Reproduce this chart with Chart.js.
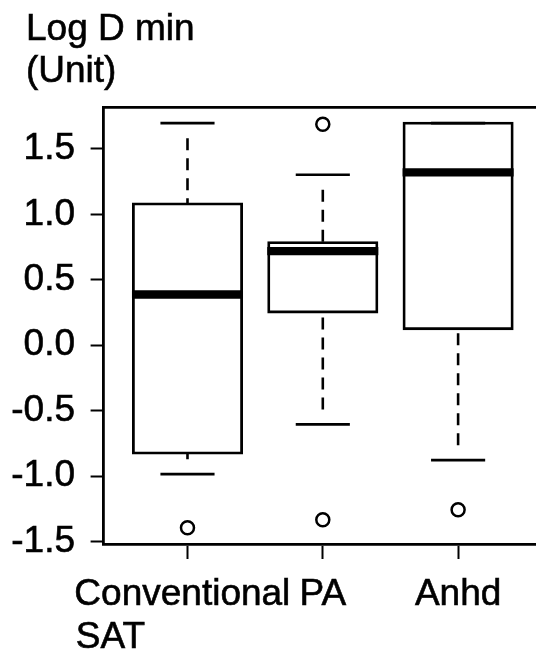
<!DOCTYPE html>
<html>
<head>
<meta charset="utf-8">
<script src="https://cdn.jsdelivr.net/npm/chart.js@4.4.1/dist/chart.umd.min.js"></script>
<style>
  html, body { margin: 0; padding: 0; background: #fff; overflow: hidden; }
  canvas { display: block; }
</style>
</head>
<body>
<canvas id="boxChart" width="560" height="660"></canvas>
<script>
// Data ----------------------------------------------------------------
var titleLines = ['Log D min', '(Unit)'];
var groups = [['Conventional ', 'SAT'], ['PA'], ['Anhd']];
var q1 = [-0.824, 0.254, 0.126];
var median = [0.388, 0.72, 1.321];
var q3 = [1.081, 0.785, 1.697];
var whiskerLo = [-0.985, -0.605, -0.878];
var whiskerHi = [1.697, 1.303, 1.697];
var outliers = [[-1.395], [1.689, -1.334], [-1.257]];
var yTicks = [-1.5, -1.0, -0.5, 0.0, 0.5, 1.0, 1.5];
var yRange = [-1.519, 1.821];
var xRange = [0.38, 3.62];

var FONT = '"Liberation Sans", Arial, sans-serif';
var FONT_SIZE = 37;
var LINE_H = 1.15;
var BOX_LW = 2.8;
var TEXT_STROKE = 0.6;

// whisker dashes: a blank stretch at the cap, then 12 on / 8 off
var whiskerDash = [0, 15];
for (var k = 0; k < 7; k++) whiskerDash.push(12, 8);

// pad the shorter lines so every line of a label starts at the same x
var measure = document.createElement('canvas').getContext('2d');
measure.font = FONT_SIZE + 'px ' + FONT;
function leftAlignLines(lines) {
  var widest = 0;
  lines.forEach(function (l) { widest = Math.max(widest, measure.measureText(l).width); });
  var sp = measure.measureText(' ').width;
  return lines.map(function (l) {
    var n = Math.round((widest - measure.measureText(l).width) / sp);
    return l + ' '.repeat(n);
  });
}

// half of a box (or cap) in pixels, taken from the x scale
function halfWidth(ctx, frac) {
  var s = ctx.chart.scales.x;
  return Math.abs(s.getPixelForValue(1 + frac) - s.getPixelForValue(1));
}

var datasets = [];

// boxes q1..q3 (inflated so the outline is centred on the hinges, like R)
datasets.push({
  type: 'bar',
  data: groups.map(function (g, i) { return { x: i + 1, y: [q1[i], q3[i]] }; }),
  backgroundColor: '#fff',
  borderColor: '#000',
  borderWidth: BOX_LW,
  borderSkipped: false,
  inflateAmount: BOX_LW / 2,
  barPercentage: 0.8,
  categoryPercentage: 1,
  order: 4
});

// dashed whiskers, whisker end -> hinge
groups.forEach(function (g, i) {
  [[whiskerHi[i], q3[i]], [whiskerLo[i], q1[i]]].forEach(function (seg) {
    datasets.push({
      type: 'line',
      data: [{ x: i + 1, y: seg[0] }, { x: i + 1, y: seg[1] }],
      borderColor: '#000',
      borderWidth: 2.6,
      borderDash: whiskerDash,
      pointRadius: 0,
      fill: false,
      order: 5
    });
  });
});

// medians
datasets.push({
  type: 'scatter',
  data: median.map(function (m, i) { return { x: i + 1, y: m }; }),
  pointStyle: 'line',
  pointRadius: function (ctx) { return halfWidth(ctx, 0.4) + BOX_LW / 2; },
  pointBorderWidth: 8.3,
  pointBorderColor: '#000',
  order: 3
});

// whisker caps
var caps = [];
groups.forEach(function (g, i) {
  caps.push({ x: i + 1, y: whiskerHi[i] });
  caps.push({ x: i + 1, y: whiskerLo[i] });
});
datasets.push({
  type: 'scatter',
  data: caps,
  pointStyle: 'line',
  pointRadius: function (ctx) { return halfWidth(ctx, 0.2); },
  pointBorderWidth: 2.7,
  pointBorderColor: '#000',
  order: 2
});

// outliers
var outPts = [];
outliers.forEach(function (list, i) {
  list.forEach(function (v) { outPts.push({ x: i + 1, y: v }); });
});
datasets.push({
  type: 'scatter',
  data: outPts,
  pointStyle: 'circle',
  pointRadius: 6.5,
  pointBorderWidth: 2.5,
  pointBorderColor: '#000',
  pointBackgroundColor: '#fff',
  order: 1
});

// y label sits in the top-left corner, left of the axis labels' box
var cornerTitle = {
  id: 'cornerTitle',
  afterDraw: function (chart) {
    var ctx = chart.ctx;
    ctx.save();
    ctx.font = FONT_SIZE + 'px ' + FONT;
    ctx.fillStyle = '#000';
    ctx.strokeStyle = '#000';
    ctx.lineWidth = TEXT_STROKE;
    ctx.textAlign = 'left';
    ctx.textBaseline = 'alphabetic';
    titleLines.forEach(function (t, i) {
      var y = 39.5 + i * FONT_SIZE * LINE_H;
      ctx.strokeText(t, 26, y);
      ctx.fillText(t, 26, y);
    });
    ctx.restore();
  }
};

var tickFont = { family: FONT, size: FONT_SIZE, lineHeight: LINE_H };

var chart = new Chart(document.getElementById('boxChart'), {
  type: 'scatter',
  data: { datasets: datasets },
  plugins: [cornerTitle],
  options: {
    responsive: false,
    animation: false,
    events: [],
    layout: { padding: { left: 10, right: 18, top: 107, bottom: 0 } },
    plugins: {
      legend: { display: false },
      tooltip: { enabled: false },
      title: { display: false }
    },
    scales: {
      x: {
        type: 'linear',
        position: 'bottom',
        min: xRange[0],
        max: xRange[1],
        offset: false,
        afterBuildTicks: function (s) {
          s.ticks = groups.map(function (g, i) { return { value: i + 1 }; });
        },
        afterFit: function (s) { s.height = 116; },
        ticks: {
          callback: function (v, idx) { return leftAlignLines(groups[idx]); },
          font: tickFont,
          color: '#000',
          textStrokeColor: '#000',
          textStrokeWidth: TEXT_STROKE,
          padding: 14.7,
          maxRotation: 0,
          minRotation: 0,
          autoSkip: false
        },
        grid: { drawOnChartArea: false, offset: false, tickLength: 15, tickWidth: 2, color: '#000' },
        border: { color: '#000', width: BOX_LW }
      },
      x2: {
        type: 'linear',
        position: 'top',
        min: xRange[0],
        max: xRange[1],
        afterFit: function (s) { s.height = 0; },
        ticks: { display: false },
        grid: { display: false },
        border: { color: '#000', width: BOX_LW }
      },
      y: {
        type: 'linear',
        min: yRange[0],
        max: yRange[1],
        afterBuildTicks: function (s) {
          s.ticks = yTicks.map(function (v) { return { value: v }; });
        },
        afterFit: function (s) { s.width = 93.6; },
        ticks: {
          callback: function (v) { return v.toFixed(1); },
          font: tickFont,
          color: '#000',
          textStrokeColor: '#000',
          textStrokeWidth: TEXT_STROKE,
          padding: 15.6
        },
        grid: { drawOnChartArea: false, tickLength: 13, tickWidth: 2, color: '#000' },
        border: { color: '#000', width: BOX_LW }
      }
    }
  }
});
</script>
</body>
</html>
